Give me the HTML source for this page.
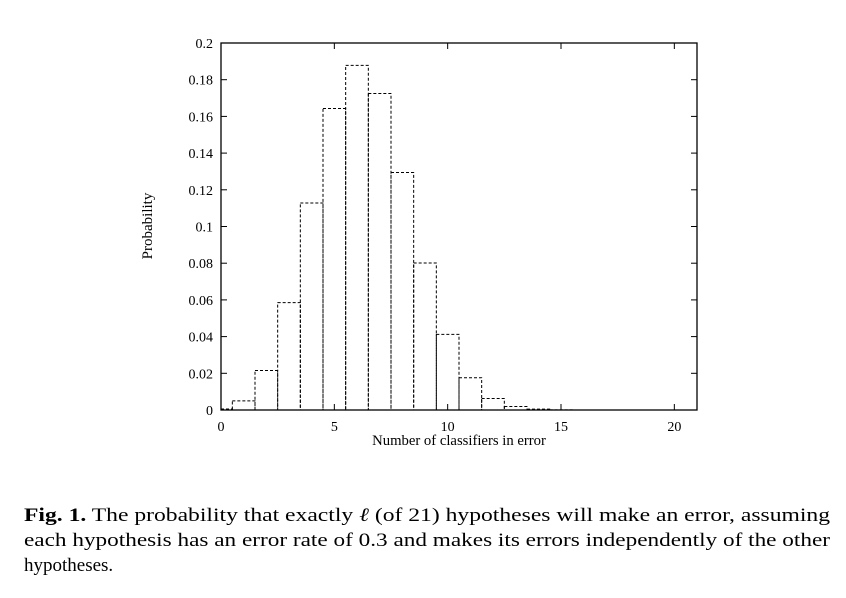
<!DOCTYPE html>
<html>
<head>
<meta charset="utf-8">
<style>
  html,body{margin:0;padding:0;background:#fff;}
  svg{display:block;}
  text{font-family:"Liberation Serif",serif;fill:#000;}
</style>
</head>
<body>
<svg id="chart" width="846" height="598" viewBox="0 0 846 598">
  <g id="bars"></g>
  <rect x="221" y="43" width="476" height="367" fill="none" stroke="#000" stroke-width="1.3"/>
  <g id="axes"></g>
  <text x="152" y="226" font-size="15" text-anchor="middle" transform="rotate(-90 152 226)">Probability</text>
  <text x="459" y="445" font-size="14.7" text-anchor="middle">Number of classifiers in error</text>
  <g font-size="19">
    <text x="24" y="521" textLength="806" lengthAdjust="spacingAndGlyphs"><tspan font-weight="bold">Fig. 1.</tspan> The probability that exactly <tspan font-style="italic">ℓ</tspan> (of 21) hypotheses will make an error, assuming</text>
    <text x="24" y="546" textLength="806" lengthAdjust="spacingAndGlyphs">each hypothesis has an error rate of 0.3 and makes its errors independently of the other</text>
    <text x="24" y="571">hypotheses.</text>
  </g>
</svg>
<script>
const categories = [0,1,2,3,4,5,6,7,8,9,10,11,12,13,14,15,16,17,18,19,20,21];
const probabilities = [0.00056,0.0050,0.0215,0.0585,0.1128,0.1643,0.1878,0.1725,0.1294,0.0801,0.0412,0.0176,0.0063,0.0019,0.00046,0.00009,0.00001,0,0,0,0,0];
const xTicks = [0,5,10,15,20];
const yTicks = [0,0.02,0.04,0.06,0.08,0.1,0.12,0.14,0.16,0.18,0.2];
const yTickLabels = ["0","0.02","0.04","0.06","0.08","0.1","0.12","0.14","0.16","0.18","0.2"];

const X0=221, X1=697, Y0=410, Y1=43, XMAX=21, YMAX=0.2;
const xs = v => X0 + (v/XMAX)*(X1-X0);
const ys = v => Y0 - (v/YMAX)*(Y0-Y1);
const NS="http://www.w3.org/2000/svg";
const bars=document.getElementById('bars');
categories.forEach((c,i)=>{
  const l=Math.max(0,c-0.5), r=Math.min(XMAX,c+0.5);
  const h=probabilities[i];
  const r1=document.createElementNS(NS,'rect');
  r1.setAttribute('x',xs(l)); r1.setAttribute('width',xs(r)-xs(l));
  r1.setAttribute('y',ys(h)); r1.setAttribute('height',Y0-ys(h));
  r1.setAttribute('fill','none'); r1.setAttribute('stroke','#000');
  r1.setAttribute('stroke-width','1'); r1.setAttribute('stroke-dasharray','3,2');
  
  
  bars.appendChild(r1);
});
const axes=document.getElementById('axes');
function line(x1,y1,x2,y2){const l=document.createElementNS(NS,'line');l.setAttribute('x1',x1);l.setAttribute('y1',y1);l.setAttribute('x2',x2);l.setAttribute('y2',y2);l.setAttribute('stroke','#000');l.setAttribute('stroke-width','1');axes.appendChild(l);return l;}
function txt(x,y,s,anchor){const t=document.createElementNS(NS,'text');t.setAttribute('x',x);t.setAttribute('y',y);t.setAttribute('font-size','14');t.setAttribute('text-anchor',anchor);t.textContent=s;axes.appendChild(t);return t;}
xTicks.forEach(v=>{
  const x=xs(v);
  const a=line(x,Y0,x,Y0-6);
  
  
  const b=line(x,Y1,x,Y1+6);
  
  
  const t=txt(x,431,String(v),'middle');
  
  
});
yTicks.forEach((v,i)=>{
  const y=ys(v);
  const a=line(X0,y,X0+6,y);
  
  
  const b=line(X1,y,X1-6,y);
  
  
  const t=txt(213,y+5,yTickLabels[i],'end');
  
  
});
</script>
</body>
</html>
